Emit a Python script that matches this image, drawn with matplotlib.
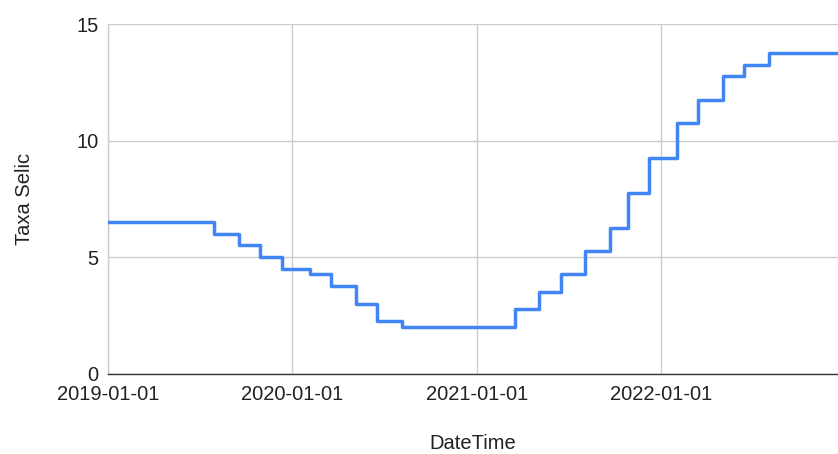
import matplotlib.pyplot as plt
import matplotlib.dates as mdates
import pandas as pd

plt.rcParams['font.family'] = ['Liberation Sans', 'DejaVu Sans']

# Selic target rate changes (Copom decisions)
dates = ['2019-01-01', '2019-07-31', '2019-09-18', '2019-10-30', '2019-12-11',
         '2020-02-05', '2020-03-18', '2020-05-06', '2020-06-17', '2020-08-05',
         '2021-03-17', '2021-05-05', '2021-06-16', '2021-08-04', '2021-09-22',
         '2021-10-27', '2021-12-08', '2022-02-02', '2022-03-16', '2022-05-04',
         '2022-06-15', '2022-08-03', '2022-12-31']
selic = [6.5, 6.0, 5.5, 5.0, 4.5,
         4.25, 3.75, 3.0, 2.25, 2.0,
         2.75, 3.5, 4.25, 5.25, 6.25,
         7.75, 9.25, 10.75, 11.75, 12.75,
         13.25, 13.75, 13.75]
yticks = [0, 5, 10, 15]
xticks = ['2019-01-01', '2020-01-01', '2021-01-01', '2022-01-01']

x = pd.to_datetime(dates)

fig = plt.figure(figsize=(8.38, 4.54), dpi=100)
ax = fig.add_axes([0.1289, 0.1773, 0.8711, 0.7697])

ax.step(x, selic, where='post', color='#4285F4', linewidth=2.5, zorder=3)

ax.set_ylim(0, 15)
ax.set_xlim(pd.Timestamp('2019-01-01'), pd.Timestamp('2022-12-18'))
ax.set_yticks(yticks)
ax.set_xticks(pd.to_datetime(xticks))
ax.xaxis.set_major_formatter(mdates.DateFormatter('%Y-%m-%d'))

ax.grid(True, color='#cccccc', linewidth=1)
ax.set_axisbelow(True)
for side in ['top', 'right']:
    ax.spines[side].set_visible(False)
ax.spines['left'].set_color('#cccccc')
ax.spines['left'].set_linewidth(1)
ax.spines['bottom'].set_color('#333333')
ax.spines['bottom'].set_linewidth(1)

ax.tick_params(axis='both', length=0, labelsize=14.5, colors='#222222')
ax.tick_params(axis='x', pad=8)
ax.tick_params(axis='y', pad=7)

ax.set_xlabel('DateTime', fontsize=14.5, color='#222222', labelpad=22)
ax.set_ylabel('Taxa Selic', fontsize=14.5, color='#222222', labelpad=30)

fig.savefig('out.png', dpi=100)
